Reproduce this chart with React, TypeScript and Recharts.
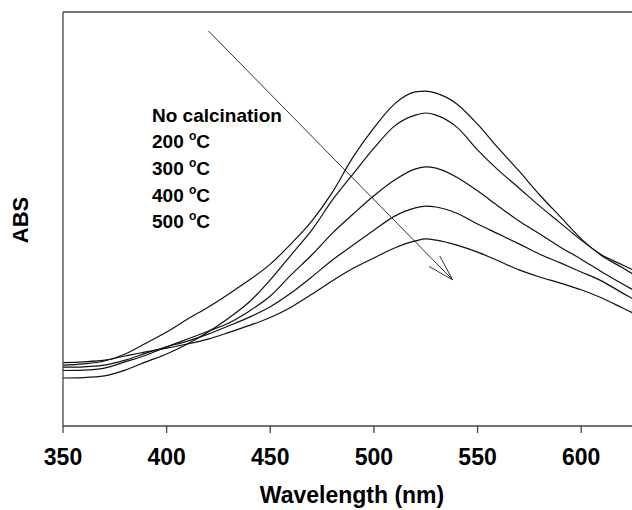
import { LineChart, Line, XAxis, YAxis, ReferenceLine, Label, Customized } from 'recharts';

// UV-vis spectra, wavelength in nm
const wavelengths = [350, 360, 370, 380, 390, 400, 410, 420, 430, 440, 450, 460, 470, 480, 490, 500, 510, 520, 525, 530, 540, 550, 560, 570, 580, 590, 600, 610, 620, 625];

const noCalcination = [0.147, 0.150, 0.157, 0.174, 0.200, 0.227, 0.258, 0.287, 0.319, 0.353, 0.391, 0.440, 0.495, 0.565, 0.650, 0.720, 0.778, 0.807, 0.809, 0.804, 0.778, 0.729, 0.671, 0.616, 0.558, 0.505, 0.452, 0.411, 0.382, 0.367];
const calc200 = [0.116, 0.117, 0.121, 0.135, 0.155, 0.174, 0.198, 0.227, 0.261, 0.300, 0.353, 0.413, 0.473, 0.546, 0.609, 0.671, 0.725, 0.751, 0.756, 0.751, 0.722, 0.667, 0.618, 0.575, 0.531, 0.490, 0.449, 0.413, 0.389, 0.377];
const calc300 = [0.134, 0.135, 0.140, 0.155, 0.171, 0.191, 0.210, 0.229, 0.249, 0.278, 0.314, 0.365, 0.413, 0.466, 0.512, 0.556, 0.594, 0.621, 0.626, 0.623, 0.601, 0.568, 0.531, 0.495, 0.464, 0.432, 0.403, 0.372, 0.343, 0.329];
const calc400 = [0.142, 0.143, 0.147, 0.159, 0.176, 0.191, 0.205, 0.222, 0.242, 0.263, 0.288, 0.321, 0.360, 0.401, 0.437, 0.473, 0.507, 0.527, 0.531, 0.529, 0.514, 0.488, 0.464, 0.440, 0.415, 0.394, 0.372, 0.350, 0.321, 0.307];
const calc500 = [0.153, 0.155, 0.159, 0.169, 0.179, 0.188, 0.198, 0.210, 0.226, 0.243, 0.262, 0.287, 0.318, 0.351, 0.381, 0.406, 0.430, 0.447, 0.452, 0.449, 0.437, 0.420, 0.399, 0.377, 0.360, 0.345, 0.329, 0.309, 0.285, 0.273];

const xTicks = [350, 400, 450, 500, 550, 600];
const seriesLabels = [
  { num: 'No calcination', deg: false },
  { num: '200', deg: true },
  { num: '300', deg: true },
  { num: '400', deg: true },
  { num: '500', deg: true },
];
// arrow from untreated to 500 °C, in data units
const arrowFrom = { x: 420.2, y: 0.954 };
const arrowTo = { x: 538, y: 0.353 };

const data = wavelengths.map((nm, i) => ({
  nm,
  c0: noCalcination[i],
  c200: calc200[i],
  c300: calc300[i],
  c400: calc400[i],
  c500: calc500[i],
}));

const FONT = '"Liberation Sans", Arial, Helvetica, sans-serif';
const AXIS = '#444';

function XTitle({ viewBox }: any) {
  const cx = viewBox.x + viewBox.width / 2 + 4;
  return (
    <text x={cx} y={viewBox.y + 77} textAnchor="middle" fontFamily={FONT} fontWeight="bold" fontSize={23} fill="#000">
      Wavelength (nm)
    </text>
  );
}

function YTitle() {
  return (
    <text x={28} y={220} transform="rotate(-90, 28, 220)" textAnchor="middle" fontFamily={FONT} fontWeight="bold" fontSize={22} fill="#000">
      ABS
    </text>
  );
}

function ArrowShape(props: any) {
  const { x1, y1, x2, y2 } = props;
  const ang = Math.atan2(y2 - y1, x2 - x1);
  const len = 27;
  const spread = (16 * Math.PI) / 180;
  const b1x = x2 - len * Math.cos(ang - spread);
  const b1y = y2 - len * Math.sin(ang - spread);
  const b2x = x2 - len * Math.cos(ang + spread);
  const b2y = y2 - len * Math.sin(ang + spread);
  return (
    <g stroke="#333" strokeWidth={1} fill="none">
      <line x1={x1} y1={y1} x2={x2} y2={y2} />
      <line x1={b1x} y1={b1y} x2={x2} y2={y2} />
      <line x1={b2x} y1={b2y} x2={x2} y2={y2} />
    </g>
  );
}

function SeriesNotes() {
  return (
    <g fontFamily={FONT} fontWeight="bold" fill="#000">
      {seriesLabels.map((s, i) => (
        <text key={i} x={152} y={121.7 + i * 26.65} fontSize={19}>
          {s.deg ? (
            <>
              {s.num + ' '}
              <tspan fontSize={12} dy={-8}>o</tspan>
              <tspan dy={8}>C</tspan>
            </>
          ) : (
            s.num
          )}
        </text>
      ))}
    </g>
  );
}

export default function App() {
  return (
    <div style={{ position: 'absolute', left: 0, top: 0, width: 632, height: 510, overflow: 'hidden', background: '#fff' }}>
      <LineChart width={650} height={510} data={data} margin={{ top: 12, right: 17, bottom: 0, left: 0 }}>
        <XAxis
          dataKey="nm"
          type="number"
          domain={[350, 625]}
          ticks={xTicks}
          allowDataOverflow
          height={84}
          tickSize={7}
          tickMargin={16}
          stroke={AXIS}
          axisLine={{ stroke: AXIS, strokeWidth: 1.3 }}
          tickLine={{ stroke: AXIS, strokeWidth: 1.3 }}
          tick={{ fill: '#000', fontSize: 23, fontWeight: 'bold', fontFamily: FONT }}
        >
          <Label content={<XTitle />} />
        </XAxis>
        <YAxis
          type="number"
          domain={[0, 1]}
          width={63}
          tick={false}
          tickLine={false}
          axisLine={{ stroke: AXIS, strokeWidth: 1.3 }}
        >
          <Label content={<YTitle />} />
        </YAxis>
        <ReferenceLine y={1} stroke={AXIS} strokeWidth={1.3} ifOverflow="visible" />
        <ReferenceLine segment={[arrowFrom, arrowTo]} shape={<ArrowShape />} ifOverflow="visible" />
        <Line type="monotone" dataKey="c0" stroke="#111" strokeWidth={1.2} dot={false} isAnimationActive={false} />
        <Line type="monotone" dataKey="c200" stroke="#111" strokeWidth={1.2} dot={false} isAnimationActive={false} />
        <Line type="monotone" dataKey="c300" stroke="#111" strokeWidth={1.2} dot={false} isAnimationActive={false} />
        <Line type="monotone" dataKey="c400" stroke="#111" strokeWidth={1.2} dot={false} isAnimationActive={false} />
        <Line type="monotone" dataKey="c500" stroke="#111" strokeWidth={1.2} dot={false} isAnimationActive={false} />
        <Customized component={<SeriesNotes />} />
      </LineChart>
    </div>
  );
}
